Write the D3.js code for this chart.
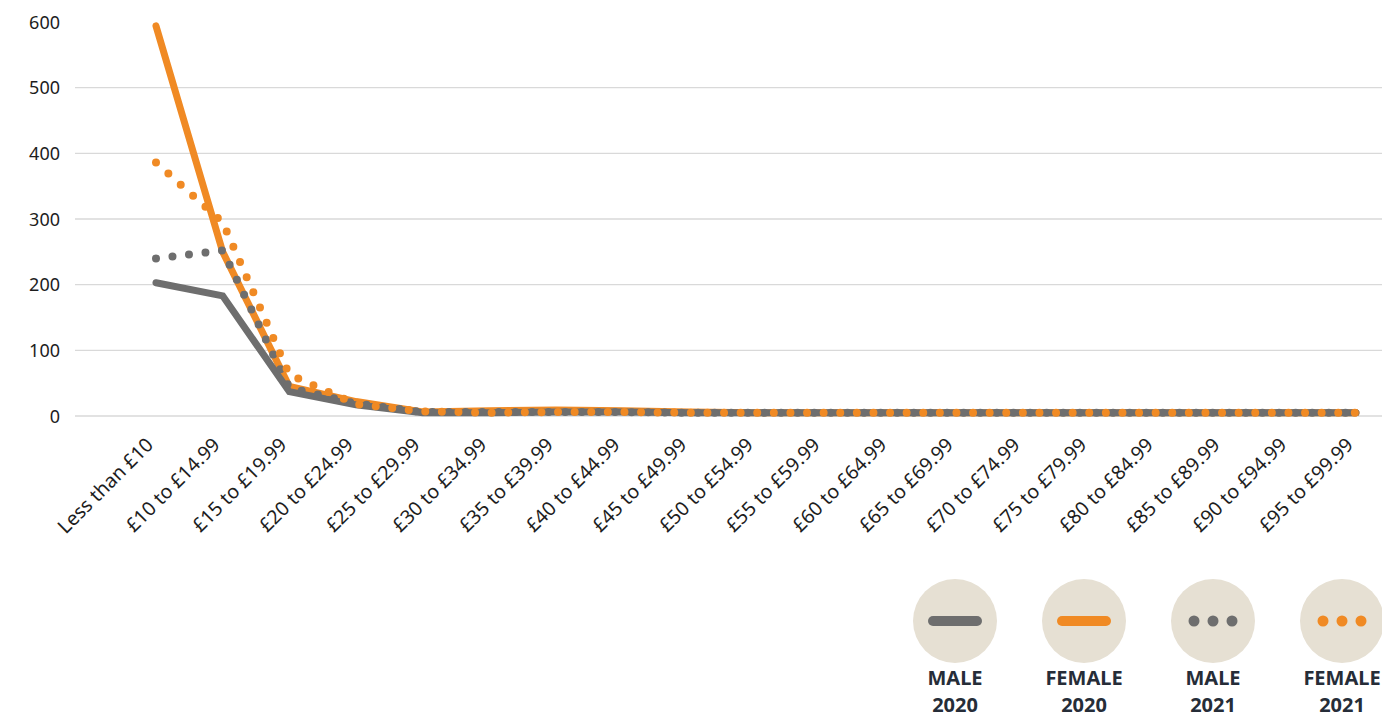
<!DOCTYPE html>
<html>
<head>
<meta charset="utf-8">
<script src="https://cdn.jsdelivr.net/npm/d3@7"></script>
<style>
  body { margin: 0; background: #fff; }
  svg { display: block; font-family: "Noto Sans", "Open Sans", sans-serif; }
</style>
</head>
<body>
<svg id="chart" width="1382" height="718"></svg>
<script>
const categories = [
  "Less than £10", "£10 to £14.99", "£15 to £19.99", "£20 to £24.99", "£25 to £29.99",
  "£30 to £34.99", "£35 to £39.99", "£40 to £44.99", "£45 to £49.99", "£50 to £54.99",
  "£55 to £59.99", "£60 to £64.99", "£65 to £69.99", "£70 to £74.99", "£75 to £79.99",
  "£80 to £84.99", "£85 to £89.99", "£90 to £94.99", "£95 to £99.99",
];
const male2020   = [ 203, 183, 37, 17, 5, 5, 6, 6, 5, 5, 5, 5, 5, 5, 5, 5, 5, 5, 5 ];
const female2020 = [ 594, 250, 45, 22, 6, 8, 9, 8, 6, 5, 5, 5, 5, 5, 5, 5, 5, 5, 5 ];
const male2021   = [ 240, 252, 43, 19, 6, 6, 6, 6, 5, 5, 5, 5, 5, 5, 5, 5, 5, 5, 5 ];
const female2021 = [ 386, 295, 63, 18, 7, 5, 6, 6, 5, 5, 5, 5, 5, 5, 5, 5, 5, 5, 5 ];
const yTicks = [ 0, 100, 200, 300, 400, 500, 600 ];

const GREY = "#6e6e6e";
const ORANGE = "#f08a24";
const FONT = "'Noto Sans', 'Open Sans', sans-serif";

const svg = d3.select( "#chart" );
const MARGINS = { left: 75, right: 1382, top: 22, bottom: 416 };

const x = d3.scalePoint()
  .domain( categories )
  .range( [ 156, 1356 ] );
const y = d3.scaleLinear()
  .domain( [ 0, 600 ] )
  .range( [ MARGINS.bottom, MARGINS.top ] );

// gridlines (none drawn for the top tick)
svg.append( "g" )
  .selectAll( "line" )
  .data( yTicks.filter( d => d < 600 ) )
  .enter()
  .append( "line" )
  .attr( "x1", MARGINS.left )
  .attr( "x2", MARGINS.right )
  .attr( "y1", d => y( d ) )
  .attr( "y2", d => y( d ) )
  .attr( "stroke", "#d9d9d9" )
  .attr( "stroke-width", 1.3 );

const yAxis = d3.axisLeft( y ).tickValues( yTicks ).tickSize( 0 ).tickPadding( 0 );
svg.append( "g" )
  .attr( "transform", "translate(60,0)" )
  .call( yAxis )
  .attr( "font-family", FONT )
  .call( g => g.select( ".domain" ).remove() )
  .selectAll( "text" )
  .attr( "font-size", 18 )
  .attr( "fill", "#1d1d1d" )
  .attr( "dy", "0.35em" );

const xAxis = d3.axisBottom( x ).tickSize( 0 ).tickPadding( 0 );
svg.append( "g" )
  .attr( "transform", `translate(0,${MARGINS.bottom})` )
  .call( xAxis )
  .attr( "font-family", FONT )
  .call( g => g.select( ".domain" ).remove() )
  .selectAll( "text" )
  .attr( "font-size", 19.5 )
  .attr( "fill", "#1d1d1d" )
  .attr( "text-anchor", "end" )
  .attr( "dy", null )
  .attr( "y", 0 )
  .attr( "transform", "translate(-2,30) rotate(-45)" );

const line = d3.line()
  .x( ( d, i ) => x( categories[i] ) )
  .y( d => y( d ) );

const series = [
  { values: female2020, color: ORANGE, dotted: false },
  { values: male2020, color: GREY, dotted: false },
  { values: male2021, color: GREY, dotted: true },
  { values: female2021, color: ORANGE, dotted: true },
];

series.forEach( s => {
  svg.append( "path" )
    .attr( "d", line( s.values ) )
    .attr( "fill", "none" )
    .attr( "stroke", s.color )
    .attr( "stroke-width", s.dotted ? 8 : 7 )
    .attr( "stroke-linecap", "round" )
    .attr( "stroke-linejoin", s.dotted ? "round" : "miter" )
    .attr( "stroke-dasharray", s.dotted ? "0 16.6" : null );
} );

// legend
const legendItems = [
  { top: "MALE", bottom: "2020", color: GREY, dotted: false },
  { top: "FEMALE", bottom: "2020", color: ORANGE, dotted: false },
  { top: "MALE", bottom: "2021", color: GREY, dotted: true },
  { top: "FEMALE", bottom: "2021", color: ORANGE, dotted: true },
];
const legend = svg.append( "g" )
  .selectAll( "g" )
  .data( legendItems )
  .enter()
  .append( "g" )
  .attr( "transform", ( d, i ) => `translate(${955 + i * 129},621)` );

legend.append( "circle" )
  .attr( "r", 42 )
  .attr( "fill", "#e6e0d3" );

legend.filter( d => !d.dotted )
  .append( "line" )
  .attr( "x1", -22 ).attr( "x2", 22 )
  .attr( "stroke", d => d.color )
  .attr( "stroke-width", 10 )
  .attr( "stroke-linecap", "round" );

legend.filter( d => d.dotted )
  .selectAll( "circle.dot" )
  .data( d => [ -19, 0, 19 ].map( dx => ( { dx, color: d.color } ) ) )
  .enter()
  .append( "circle" )
  .attr( "class", "dot" )
  .attr( "cx", d => d.dx )
  .attr( "r", 5.5 )
  .attr( "fill", d => d.color );

legend.append( "text" )
  .attr( "y", 64 )
  .attr( "text-anchor", "middle" )
  .attr( "font-size", 20 )
  .attr( "font-weight", "bold" )
  .attr( "fill", "#262d38" )
  .text( d => d.top );

legend.append( "text" )
  .attr( "y", 91 )
  .attr( "text-anchor", "middle" )
  .attr( "font-size", 20 )
  .attr( "font-weight", "bold" )
  .attr( "fill", "#262d38" )
  .text( d => d.bottom );
</script>
</body>
</html>
